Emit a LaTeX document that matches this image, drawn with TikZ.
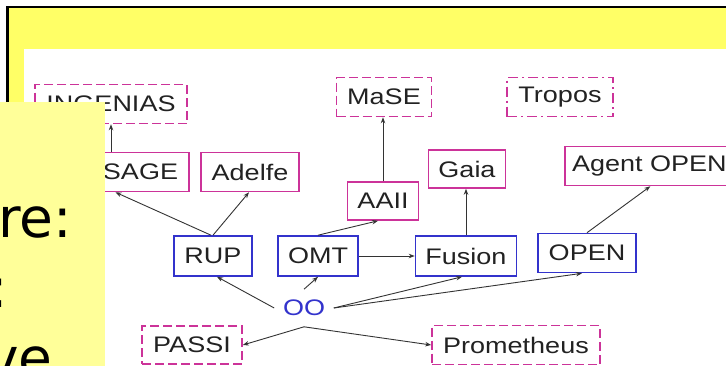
\documentclass[tikz,border=0pt]{standalone}
\usepackage{fontspec}
\usetikzlibrary{arrows.meta,calc}
\newfontfamily\boxfont[FakeStretch=1.2]{Liberation Sans}
\newfontfamily\notefont{DejaVu Sans}
\definecolor{slideyellow}{RGB}{255,255,102}
\definecolor{noteyellow}{RGB}{255,255,153}
\definecolor{methmag}{RGB}{204,51,153}
\definecolor{methblue}{RGB}{51,51,204}
\definecolor{labelgray}{RGB}{34,34,34}
\definecolor{edgegray}{RGB}{51,51,51}

\tikzset{
  method/.style={fill=white, line width=1.6pt, inner sep=0pt, text=labelgray,
    font=\boxfont\fontsize{22.5}{24}\selectfont, minimum height=39pt},
  agentbox/.style={method, draw=methmag},
  oobox/.style={method, draw=methblue},
  otherbox/.style={agentbox, dash pattern=on 9pt off 4pt},
  dotbox/.style={agentbox, dash pattern=on 10pt off 4pt on 2pt off 4pt},
  edge/.style={draw=edgegray, line width=0.9pt,
    -{Stealth[length=6pt,width=4.5pt]}},
  note/.style={font=\notefont\fontsize{55}{70}\selectfont, inner sep=0pt,
    anchor=base east, text=black}
}

\begin{document}
\begin{tikzpicture}[x=1pt,y=-1pt]
\useasboundingbox (0,0) rectangle (726,365);
\clip (0,0) rectangle (726,365);

% slide frame and picture area
\fill[slideyellow] (7.5,7) rectangle (740,380);
\fill[white] (24,49) rectangle (740,380);
\draw[black, line width=2.5pt] (7.5,380) -- (7.5,7) -- (740,7);

% methodology boxes
\node[otherbox, minimum width=152pt] (ingenias) at (111,104) {INGENIAS};
\node[otherbox, minimum width=95pt]  (mase)     at (384,97)  {MaSE};
\node[dotbox,   minimum width=106pt] (tropos)   at (560,97)  {Tropos};

\node[agentbox, minimum width=97pt]  (sage)     at (140.5,172) {SAGE};
\node[agentbox, minimum width=98pt]  (adelfe)   at (250,172) {Adelfe};
\node[agentbox, minimum width=71pt, minimum height=38pt] (aaii) at (383,201) {AAII};
\node[agentbox, minimum width=77pt, minimum height=38pt] (gaia) at (467,169) {Gaia};
\node[agentbox, minimum width=177pt, anchor=west] (agent) at (564,166) {\hspace*{-8pt}Agent OPEN};

\node[oobox, minimum width=78pt, minimum height=40pt]  (rup)    at (213,256) {RUP};
\node[oobox, minimum width=80pt, minimum height=40pt]  (omt)    at (318,256) {OMT};
\node[oobox, minimum width=101pt, minimum height=40pt] (fusion) at (466,256) {Fusion};
\node[oobox, minimum width=98pt]  (open)   at (587,253) {OPEN};

\node[method, fill=none, text=methblue, minimum width=58pt, minimum height=36pt] (oo) at (304,308) {OO};

\node[otherbox, minimum width=100pt, minimum height=38pt] (passi)      at (192,345) {PASSI};
\node[otherbox, minimum width=168pt] (prometheus) at (516,345) {Prometheus};

% derivation arrows
\draw[edge] (sage.north -| ingenias.south) -- (ingenias.south);
\draw[edge] ([xshift=-2pt]rup.north) -- ([xshift=-25pt]sage.south);
\draw[edge] (rup.north) -- ([xshift=-1pt]adelfe.south);
\draw[edge] (omt.north) -- ([xshift=-5pt]aaii.south);
\draw[edge] (aaii.north) -- (aaii.north |- mase.south);
\draw[edge] (fusion.north) -- (fusion.north |- gaia.south);
\draw[edge] (open.north) -- ([xshift=-3pt]agent.south);
\draw[edge] (omt.east) -- (fusion.west);

\draw[edge] (oo.west) -- ([xshift=4pt]rup.south);
\draw[edge] (oo.north) -- (omt.south);
\draw[edge] (oo.east) -- ([xshift=-4pt]fusion.south);
\draw[edge] (oo.east) -- ([xshift=-5pt]open.south);
\draw[edge] (oo.south) -- (passi.east);
\draw[edge] (oo.south) -- (prometheus.west);

% note panel in front
\fill[noteyellow] (0,102) rectangle (105,380);
\node[note] (noteA) at (72,237) {re:};
\node[note] (noteB) at (8,307) {:};
\node[note] (noteC) at (53,377) {ve};
\end{tikzpicture}
\end{document}
